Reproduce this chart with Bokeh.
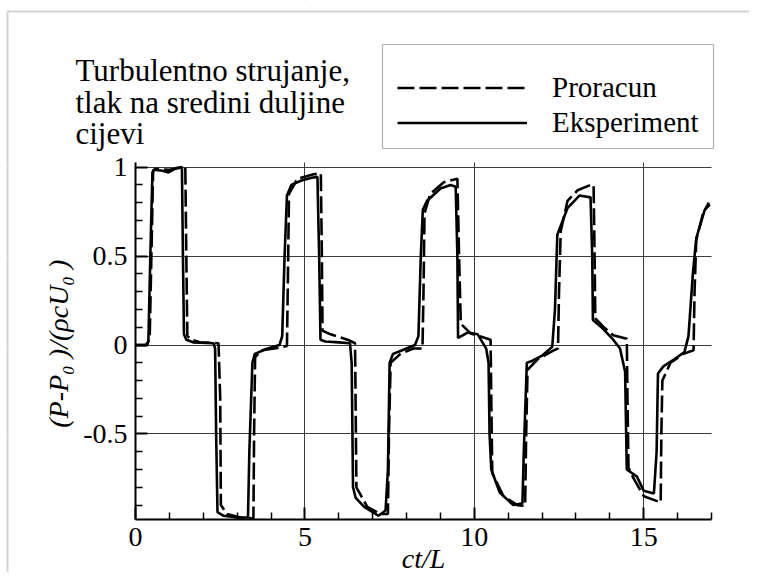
import math
from bokeh.plotting import figure
from bokeh.models import FixedTicker, BoxAnnotation
from bokeh.core.properties import value
from bokeh.embed import file_html
from bokeh.resources import INLINE

# ---------------- data ----------------
proracun_x = [0.0, 0.35, 0.42, 0.48, 0.52, 0.6, 1.0, 1.3, 1.47, 1.5, 1.53, 1.65, 1.9, 2.45,
              2.5, 2.52, 2.7, 3.1, 3.48, 3.5, 3.53, 3.7, 4.1, 4.47, 4.5, 4.53, 4.78, 5.26,
              5.47, 5.5, 5.52, 5.76, 6.26, 6.48, 6.5, 6.52, 6.84, 7.23, 7.45, 7.48, 7.53,
              7.82, 8.2, 8.47, 8.5, 8.53, 8.7, 9.1, 9.5, 9.55, 9.6, 9.89, 10.48, 10.5,
              10.53, 10.86, 11.27, 11.5, 11.53, 11.57, 11.87, 12.34, 12.47, 12.5, 12.55,
              12.75, 13.05, 13.43, 13.52, 13.55, 13.57, 13.82, 14.1, 14.5, 14.52, 14.55,
              14.7, 15.0, 15.5, 15.52, 15.55, 15.79, 16.17, 16.47, 16.5, 16.55, 16.75, 16.92]
proracun_y = [0.0, 0.0, 0.05, 0.6, 0.98, 0.99, 0.985, 0.995, 1.0, 0.5, 0.05, 0.03, 0.015, 0.01,
              -0.3, -0.9, -0.95, -0.97, -0.975, -0.5, -0.07, -0.03, -0.02, -0.005, 0.4, 0.85,
              0.935, 0.96, 0.965, 0.5, 0.08, 0.06, 0.03, 0.01, -0.4, -0.8, -0.91, -0.95,
              -0.95, -0.5, -0.1, -0.05, -0.02, -0.02, 0.3, 0.74, 0.85, 0.915, 0.935, 0.5,
              0.12, 0.065, 0.03, -0.3, -0.72, -0.85, -0.9, -0.905, -0.5, -0.14, -0.08,
              -0.03, -0.02, 0.3, 0.64, 0.81, 0.87, 0.9, 0.9, 0.5, 0.15, 0.1, 0.055, 0.035,
              -0.3, -0.69, -0.75, -0.85, -0.885, -0.5, -0.2, -0.1, -0.05, -0.03, 0.3, 0.59,
              0.74, 0.8]

eksperiment_x = [0.0, 0.3, 0.38, 0.45, 0.5, 0.55, 0.8, 0.97, 1.2, 1.37, 1.4, 1.43, 1.5, 1.7,
                 2.3, 2.35, 2.38, 2.42, 2.6, 3.0, 3.32, 3.36, 3.45, 3.52, 3.9, 4.25, 4.33,
                 4.4, 4.47, 4.6, 4.9, 5.2, 5.37, 5.42, 5.46, 5.6, 6.0, 6.33, 6.38, 6.42, 6.5,
                 6.75, 7.0, 7.17, 7.38, 7.45, 7.5, 7.6, 7.8, 8.25, 8.35, 8.42, 8.48, 8.6, 9.0,
                 9.3, 9.45, 9.5, 9.52, 9.8, 10.1, 10.35, 10.42, 10.45, 10.5, 10.75, 11.15,
                 11.42, 11.46, 11.55, 11.7, 12.0, 12.3, 12.38, 12.45, 12.75, 13.1, 13.43,
                 13.48, 13.5, 13.75, 14.1, 14.3, 14.45, 14.5, 14.8, 15.0, 15.3, 15.38, 15.42,
                 15.58, 15.9, 16.2, 16.32, 16.45, 16.55, 16.8, 16.95]
eksperiment_y = [0.0, 0.0, 0.02, 0.6, 0.97, 0.985, 0.98, 0.97, 0.995, 1.0, 0.5, 0.06, 0.03,
                 0.015, 0.01, -0.02, -0.5, -0.94, -0.96, -0.97, -0.97, -0.6, -0.1, -0.05,
                 -0.02, 0.0, 0.05, 0.5, 0.84, 0.9, 0.925, 0.94, 0.945, 0.5, 0.03, 0.02, 0.015,
                 0.01, -0.1, -0.8, -0.86, -0.91, -0.94, -0.96, -0.93, -0.7, -0.1, -0.05,
                 -0.035, 0.0, 0.05, 0.5, 0.76, 0.81, 0.88, 0.9, 0.89, 0.5, 0.04, 0.07, 0.06,
                 -0.02, -0.1, -0.5, -0.7, -0.83, -0.9, -0.89, -0.6, -0.1, -0.09, -0.06, -0.01,
                 0.2, 0.62, 0.77, 0.84, 0.83, 0.5, 0.14, 0.1, 0.03, -0.02, -0.15, -0.7, -0.74,
                 -0.82, -0.835, -0.6, -0.16, -0.12, -0.08, -0.04, 0.05, 0.4, 0.6, 0.76, 0.79]

series_names = ["Proracun", "Eksperiment"]
x_ticks = [0, 5, 10, 15]
x_tick_labels = ["0", "5", "10", "15"]
x_minor_ticks = [1, 2, 3, 4, 6, 7, 8, 9, 11, 12, 13, 14, 16, 17]
y_ticks = [-0.5, 0, 0.5, 1]
y_tick_labels = ["-0.5", "0", "0.5", "1"]
y_minor_ticks = [-0.9, -0.8, -0.7, -0.6, -0.4, -0.3, -0.2, -0.1, 0.1, 0.2, 0.3, 0.4,
                 0.6, 0.7, 0.8, 0.9]
x_axis_range = (0, 17)
y_axis_range = (-0.981, 1.026)
title_lines = ["Turbulentno strujanje,", "tlak na sredini duljine", "cijevi"]
x_label = "ct/L"
y_label = "(P-P\u2080 )/(\u03c1cU\u2080 )"

# ---------------- layout (pixels) ----------------
W, H = 749, 572
AX_L, AX_R, AX_T, AX_B = 135, 711, 162, 519     # where the axes sit on the canvas
FONT = "Liberation Serif"

ppx = (AX_R - AX_L) / (x_axis_range[1] - x_axis_range[0])
ppy = (AX_B - AX_T) / (y_axis_range[1] - y_axis_range[0])


def dx(px):
    return x_axis_range[0] + (px - AX_L) / ppx


def dy(py):
    return y_axis_range[1] - (py - AX_T) / ppy


p = figure(frame_width=W, frame_height=H, x_range=(dx(0), dx(W)), y_range=(dy(H), dy(0)),
           output_backend="svg", toolbar_location=None,
           min_border_left=0, min_border_right=0, min_border_top=0, min_border_bottom=0)
p.outline_line_color = None
p.background_fill_color = "white"
p.border_fill_color = "white"

p.line(proracun_x, proracun_y, line_color="black", line_width=2.6, line_dash="17 5",
       legend_label=series_names[0])
p.line(eksperiment_x, eksperiment_y, line_color="black", line_width=2.6,
       legend_label=series_names[1])

for ax, ticks, minor, labels in ((p.xaxis[0], x_ticks, x_minor_ticks, x_tick_labels),
                                 (p.yaxis[0], y_ticks, y_minor_ticks, y_tick_labels)):
    ax.ticker = FixedTicker(ticks=ticks, minor_ticks=minor)
    ax.major_label_overrides = {t: l for t, l in zip(ticks, labels)}
    ax.axis_line_width = 2
    ax.axis_line_color = "black"
    ax.major_tick_in = 12
    ax.major_tick_out = 0
    ax.minor_tick_in = 7
    ax.minor_tick_out = 0
    ax.major_tick_line_width = 2
    ax.minor_tick_line_width = 1.5
    ax.major_label_text_font = FONT
    ax.major_label_text_font_size = "28px"
    ax.major_label_text_color = "black"
    ax.major_label_standoff = 8

p.xaxis[0].fixed_location = y_axis_range[0]
p.xaxis[0].bounds = x_axis_range
p.yaxis[0].fixed_location = x_axis_range[0]
p.yaxis[0].bounds = y_axis_range

p.xgrid.ticker = FixedTicker(ticks=x_ticks)
p.ygrid.ticker = FixedTicker(ticks=y_ticks)
for g in (p.xgrid[0], p.ygrid[0]):
    g.grid_line_color = "#3c3c3c"
    g.grid_line_width = 1

# white masks so grid lines stay inside the axes box
far = 60  # px beyond the canvas
for kw in (dict(bottom=y_axis_range[1], top=dy(-far), left=dx(-far), right=dx(W + far)),
           dict(top=y_axis_range[0], bottom=dy(H + far), left=dx(-far), right=dx(W + far)),
           dict(right=x_axis_range[0], left=dx(-far), top=dy(-far), bottom=dy(H + far)),
           dict(left=x_axis_range[1], right=dx(W + far), top=dy(-far), bottom=dy(H + far))):
    p.add_layout(BoxAnnotation(fill_color="white", fill_alpha=1, line_color=None,
                               level="glyph", **kw))

# outer frame of the picture (left and top edges visible)
p.add_layout(BoxAnnotation(left=dx(7), top=dy(11), right=dx(W + far), bottom=dy(H + far),
                           fill_alpha=0, line_color="#6a6a6a", line_width=2))

# axis titles
p.text(x=[(x_axis_range[0] + x_axis_range[1]) / 2], y=[dy(558)], text=[x_label],
       text_font=value(FONT), text_font_size=value("28px"), text_font_style=value("italic"),
       text_color="black", text_align=value("center"), text_baseline=value("alphabetic"),
       level="overlay")
p.text(x=[dx(58)], y=[(y_axis_range[0] + y_axis_range[1]) / 2 - 0.015], text=[y_label],
       angle=math.pi / 2, text_font=value(FONT), text_font_size=value("28px"),
       text_font_style=value("italic"), text_color="black", text_align=value("center"),
       text_baseline=value("middle"), level="overlay")

# title block (three lines)
title_base_px = [70, 101.5, 133]
p.text(x=[dx(75)] * len(title_lines), y=[dy(b) for b in title_base_px], text=title_lines,
       text_font=value(FONT), text_font_size=value("31px"), text_color="black",
       text_align=value("left"), text_baseline=value("alphabetic"), level="overlay")

# legend frame
p.add_layout(BoxAnnotation(left=dx(382), right=dx(713), top=dy(44), bottom=dy(148),
                           fill_alpha=0, line_color="black", line_width=1.2))

leg = p.legend[0]
leg.location = (397, H - 139.5)
leg.border_line_color = None
leg.background_fill_alpha = 0
leg.label_text_font = FONT
leg.label_text_font_size = "29px"
leg.label_text_color = "black"
leg.glyph_width = 130
leg.glyph_height = 35
leg.label_standoff = 25
leg.padding = 0
leg.spacing = 0
leg.margin = 0

open("out.html", "w").write(file_html(p, INLINE))
